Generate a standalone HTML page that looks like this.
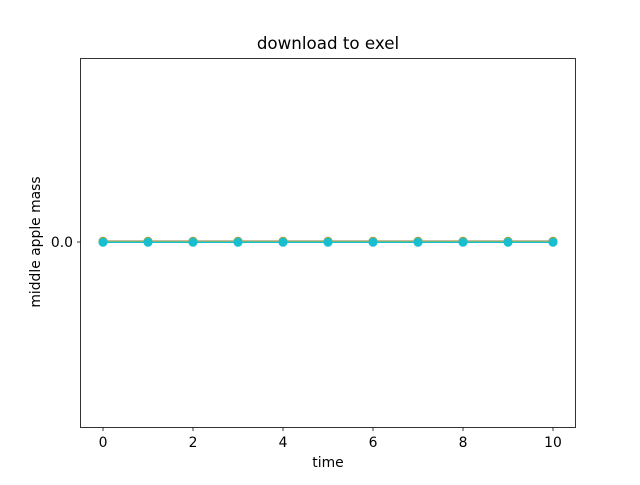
<!DOCTYPE html>
<html><head><meta charset="utf-8"><style>
body{margin:0;background:#fff;}
text{font-family:"DejaVu Sans","Liberation Sans",sans-serif;}
</style></head><body>
<svg id="chart" width="640" height="480" xmlns="http://www.w3.org/2000/svg">
<rect width="640" height="480" fill="#fff"/>
<text x="328" y="49" font-size="16.7" text-anchor="middle">download to exel</text>
<text x="328" y="467" font-size="13.9" text-anchor="middle">time</text>
<text transform="translate(40,242) rotate(-90)" font-size="13.9" text-anchor="middle">middle apple mass</text>
<g id="ticks"></g>
<g id="series"></g>
<rect x="80.5" y="58.5" width="495" height="369" fill="none" stroke="#000" stroke-width="0.8"/>
</svg>
<script>
const times=[0,1,2,3,4,5,6,7,8,9,10];
const seriesA=[0,0,0,0,0,0,0,0,0,0,0];
const seriesB=[0,0,0,0,0,0,0,0,0,0,0];
const seriesC=[0,0,0,0,0,0,0,0,0,0,0];
const xTicks=[0,2,4,6,8,10];
const yTicks=[0.0];
const colors=['#8c564b','#bcbd22','#17becf'];
const ns='http://www.w3.org/2000/svg';
const X=v=>80.5+(v+0.5)*45;
const Y=v=>242-v*3000;
const tg=document.getElementById('ticks');
xTicks.forEach(t=>{
 const l=document.createElementNS(ns,'line');
 
 
 l.setAttribute('x1',X(t));l.setAttribute('x2',X(t));l.setAttribute('y1',427.5);l.setAttribute('y2',431);l.setAttribute('stroke','#000');l.setAttribute('stroke-width','0.8');tg.appendChild(l);
 const tx=document.createElementNS(ns,'text');
 
 
 tx.setAttribute('x',X(t));tx.setAttribute('y',447);tx.setAttribute('font-size','13.9');tx.setAttribute('text-anchor','middle');tx.textContent=t;tg.appendChild(tx);
});
yTicks.forEach(t=>{
 const l=document.createElementNS(ns,'line');
 
 
 l.setAttribute('x1',77);l.setAttribute('x2',80.5);l.setAttribute('y1',Y(t));l.setAttribute('y2',Y(t));l.setAttribute('stroke','#000');l.setAttribute('stroke-width','0.8');tg.appendChild(l);
 const tx=document.createElementNS(ns,'text');
 
 
 tx.setAttribute('x',73);tx.setAttribute('y',Y(t)+5);tx.setAttribute('font-size','13.9');tx.setAttribute('text-anchor','end');tx.textContent=t.toFixed(1);tg.appendChild(tx);
});
const sg=document.getElementById('series');
[seriesA,seriesB,seriesC].forEach((s,i)=>{
 const off=[-0.7,-0.4,0.3][i];
 const p=document.createElementNS(ns,'polyline');
 
 
 p.setAttribute('points',times.map((t,j)=>X(t)+','+(Y(s[j])+off)).join(' '));
 p.setAttribute('fill','none');p.setAttribute('stroke',colors[i]);p.setAttribute('stroke-width','1.5');sg.appendChild(p);
 times.forEach((t,j)=>{
  const c=document.createElementNS(ns,'circle');
  
  
  c.setAttribute('cx',X(t));c.setAttribute('cy',Y(s[j])+off);c.setAttribute('r',4.5);c.setAttribute('fill',colors[i]);sg.appendChild(c);
 });
});
</script>
</body></html>
